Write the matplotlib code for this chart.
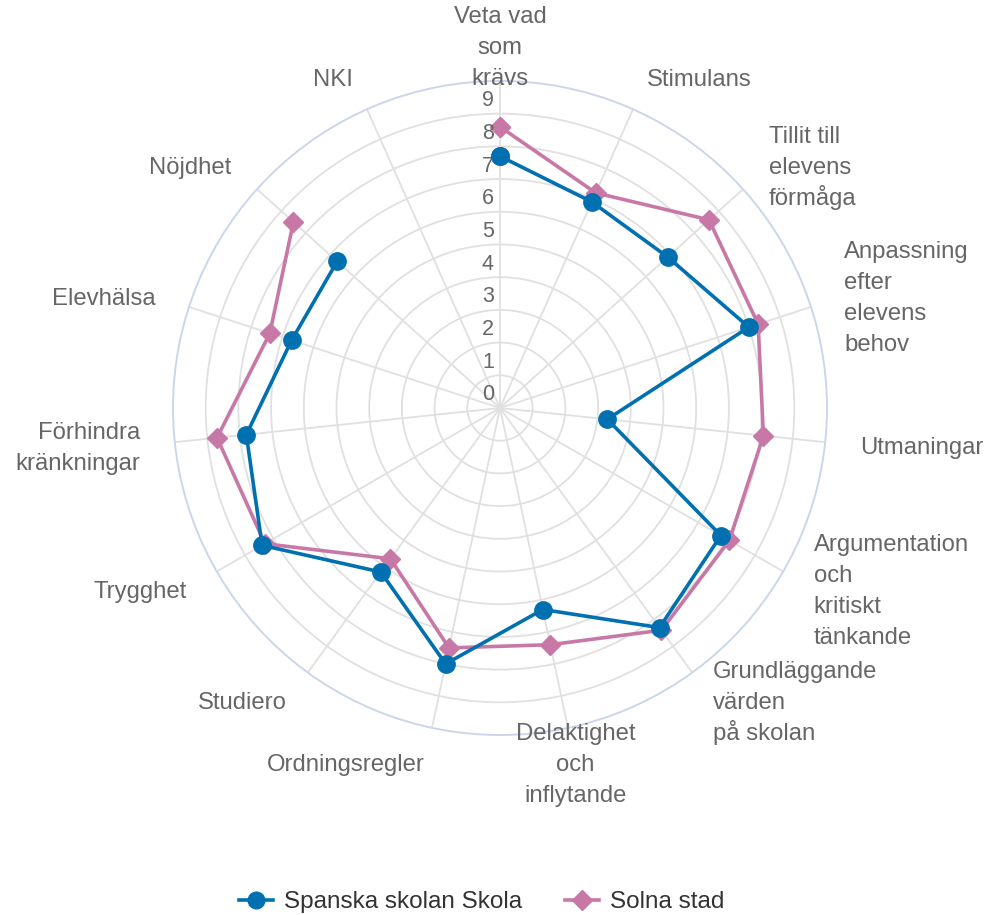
import matplotlib
matplotlib.use("Agg")
import matplotlib.pyplot as plt
import numpy as np
from matplotlib.lines import Line2D
from matplotlib.transforms import offset_copy

plt.rcParams["font.family"] = ["Liberation Sans", "DejaVu Sans"]

# ---- data ---------------------------------------------------------------- #
categories = ["Veta vad\nsom\nkrävs", "Stimulans", "Tillit till\nelevens\nförmåga",
              "Anpassning\nefter\nelevens\nbehov", "Utmaningar",
              "Argumentation\noch\nkritiskt\ntänkande",
              "Grundläggande\nvärden\npå skolan", "Delaktighet\noch\ninflytande",
              "Ordningsregler", "Studiero", "Trygghet", "Förhindra\nkränkningar",
              "Elevhälsa", "Nöjdhet", "NKI"]
spanska = [7.7, 6.9, 6.9, 8.0, 3.3, 7.8, 8.3, 6.3, 8.0, 6.2, 8.4, 7.8, 6.7, 6.7, np.nan]
solna = [8.6, 7.2, 8.6, 8.3, 8.1, 8.1, 8.4, 7.4, 7.5, 5.7, 8.3, 8.7, 7.4, 8.5, np.nan]
series_names = ["Spanska skolan Skola", "Solna stad"]
r_ticks = list(range(0, 10))
r_max = 10

# ---- styles -------------------------------------------------------------- #
BLUE, PINK = "#0070b0", "#c878a6"
GRID, OUTER, LABEL = "#e0e0e0", "#ccd6eb", "#666666"
label_align = ["center", "left", "left", "left", "left", "left", "left", "center",
               "right", "right", "right", "right", "right", "right", "right"]
LINE_STEP = 31   # px between wrapped label lines
BASE_DROP = 8.5  # px from visual line centre down to baseline

fig = plt.figure(figsize=(9.89, 9.15), dpi=100)
ax = fig.add_axes([0.1749, 0.1967, 0.6613, 0.7148], projection="polar")
ax.set_theta_zero_location("N")
ax.set_theta_direction(-1)
ax.set_ylim(0, r_max)

n = len(categories)
angles = np.arange(n) * 2 * np.pi / n
ax.set_xticks(angles)
ax.set_xticklabels([])
ax.set_yticks(range(1, r_max))
ax.set_yticklabels([])
ax.grid(True, color=GRID, lw=1.3)
ax.spines["polar"].set_color(OUTER)
ax.spines["polar"].set_linewidth(1.4)
ax.tick_params(length=0)

# closed loops, NaN leaves the gap for missing values
th = np.append(angles, angles[0])
for vals, col, mk, ms, z in [(spanska, BLUE, "o", 12.5, 4), (solna, PINK, "D", 10.5, 3)]:
    v = np.append(vals, vals[0])
    ax.plot(th, v, color=col, lw=2.6, marker=mk, ms=ms, zorder=z, clip_on=False)

# radial tick labels along the top spoke
tick_tr = offset_copy(ax.transData, fig=fig, x=-6, y=13, units="dots")
for k in r_ticks:
    ax.text(0, k, str(k), transform=tick_tr, ha="right", va="center",
            fontsize=15.5, color=LABEL)

# category labels outside the outer circle, one text per wrapped line
r_lab = r_max * 362 / 327
for a, lab, al in zip(angles, categories, label_align):
    rows = lab.split("\n")
    m = len(rows)
    for i, row in enumerate(rows):
        dy = -(i - (m - 1) / 2) * LINE_STEP - BASE_DROP
        tr = offset_copy(ax.transData, fig=fig, x=0, y=dy, units="dots")
        ax.text(a, r_lab, row, transform=tr, ha=al, va="baseline",
                fontsize=17.2, color=LABEL, clip_on=False)

handles = [Line2D([], [], color=BLUE, lw=2.6, marker="o", ms=12),
           Line2D([], [], color=PINK, lw=2.6, marker="D", ms=10)]
leg = fig.legend(handles, series_names, loc="center", bbox_to_anchor=(0.487, 0.014),
                 ncol=2, frameon=False, fontsize=17.5, handlelength=1.4,
                 handletextpad=0.45, columnspacing=1.8)
for t in leg.get_texts():
    t.set_color("#333333")

fig.savefig("out.png", dpi=100)
